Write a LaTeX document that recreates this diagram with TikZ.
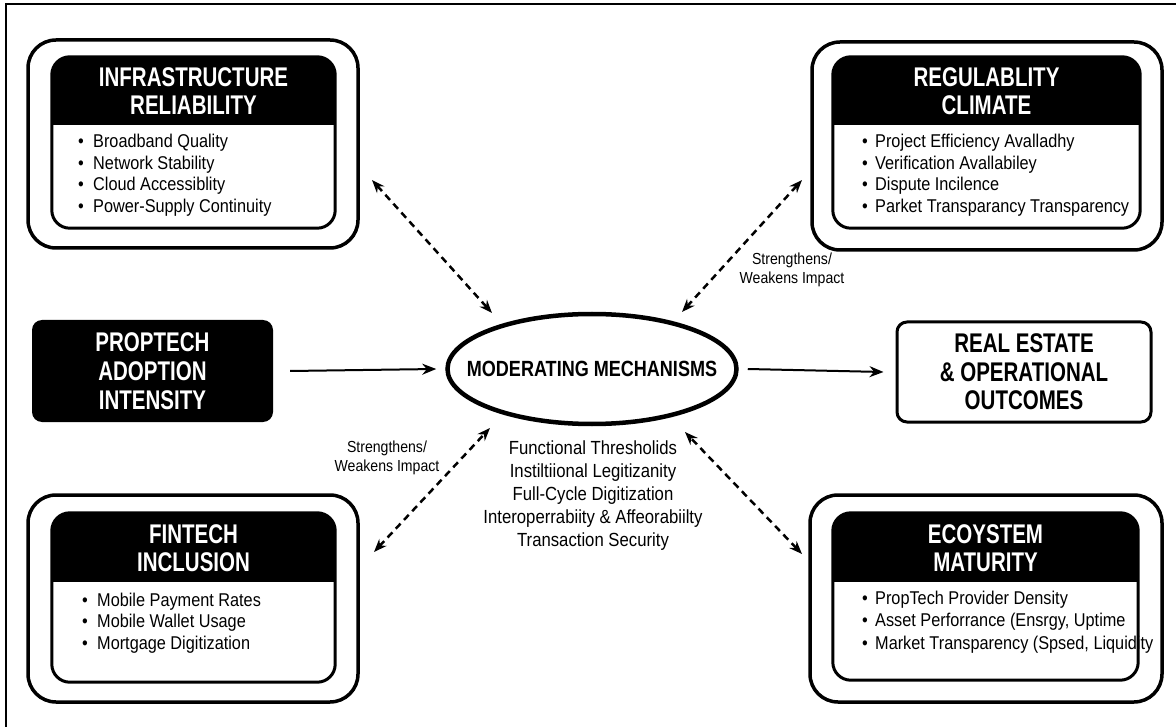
\documentclass[tikz,border=0pt]{standalone}
\usepackage{fontspec}
\setmainfont{Liberation Sans}
\newfontfamily\headfont[FakeStretch=0.76]{Liberation Sans}
\newfontfamily\ovalfont[FakeStretch=0.82]{Liberation Sans}
\newfontfamily\bodyfont[FakeStretch=0.88]{Liberation Sans}
\usetikzlibrary{shapes.geometric,arrows.meta}

% bullet with a fixed indent before the item text
\newcommand\bitem[1][15pt]{\makebox[#1][l]{•}}

\tikzset{
  outerbox/.style={draw, line width=3.5pt, rounded corners=28pt, inner sep=0pt},
  innerhold/.style={inner sep=0pt},
  innerline/.style={draw, line width=3pt, rounded corners=18pt},
  headtext/.style={text=white, font=\headfont\bfseries\fontsize{27}{28.5}\selectfont,
    align=center, inner sep=0pt},
  listtext/.style={font=\bodyfont\fontsize{18.5}{21.5}\selectfont, align=left,
    inner sep=0pt, anchor=west},
  darkbox/.style={fill=black, rounded corners=10pt, inner sep=0pt, text=white,
    font=\headfont\bfseries\fontsize{27}{29}\selectfont, align=center},
  lightbox/.style={draw, line width=3pt, rounded corners=10pt, inner sep=0pt,
    font=\headfont\bfseries\fontsize{27}{28.5}\selectfont, align=center},
  modoval/.style={draw, ellipse, line width=4.5pt, inner sep=0pt},
  ovaltext/.style={font=\ovalfont\bfseries\fontsize{22}{24}\selectfont, inner sep=0pt},
  notetext/.style={font=\bodyfont\fontsize{19}{23}\selectfont, align=center, inner sep=0pt},
  labeltext/.style={font=\bodyfont\fontsize{16}{19.5}\selectfont, align=center, inner sep=0pt},
  flow/.style={line width=2pt, -{Stealth[length=14pt,width=11pt]}},
  moderate/.style={line width=2.5pt, dash pattern=on 7pt off 5pt,
    {Stealth[length=13pt,width=10pt]}-{Stealth[length=13pt,width=10pt]}},
}

\begin{document}
\begin{tikzpicture}[x=1pt,y=-1pt]
\useasboundingbox (0,0) rectangle (1176,727);
\fill[white] (0,0) rectangle (1176,727);

% page frame (top and left rules)
\draw[line width=1.5pt] (1176,4) -- (6,4) -- (6,727);

% ---------- Infrastructure reliability ----------
\node[outerbox, minimum width=330pt, minimum height=208pt] (infra) at (193,144) {};
\node[innerhold, minimum width=283pt, minimum height=171pt] (infraIn) at (193.5,142.5) {};
\begin{scope}
  \clip[rounded corners=18pt] (infraIn.north west) rectangle (infraIn.south east);
  \fill (infraIn.north west) rectangle (infraIn.east |- 0,125);
\end{scope}
\draw[innerline] (infraIn.north west) rectangle (infraIn.south east);
\node[headtext] (infraHead) at (193.5,91) {INFRASTRUCTURE\\RELIABILITY};
\node[listtext] (infraList) at (78,175) {\bitem Broadband Quality\\\bitem Network Stability\\\bitem Cloud Accessiblity\\\bitem Power-Supply Continuity};

% ---------- Regulability climate ----------
\node[outerbox, minimum width=350pt, minimum height=208pt] (regul) at (987,146) {};
\node[innerhold, minimum width=307pt, minimum height=171pt] (regulIn) at (986.5,142.5) {};
\begin{scope}
  \clip[rounded corners=18pt] (regulIn.north west) rectangle (regulIn.south east);
  \fill (regulIn.north west) rectangle (regulIn.east |- 0,125);
\end{scope}
\draw[innerline] (regulIn.north west) rectangle (regulIn.south east);
\node[headtext] (regulHead) at (986.5,91) {REGULABLITY\\CLIMATE};
\node[listtext] (regulList) at (862,175) {\bitem[13pt]Project Efficiency Avalladhy\\\bitem[13pt]Verification Avallabiley\\\bitem[13pt]Dispute Incilence\\\bitem[13pt]Parket Transparancy Transparency};

% ---------- Fintech inclusion ----------
\node[outerbox, minimum width=330pt, minimum height=207pt] (fintech) at (193,598.5) {};
\node[innerhold, minimum width=283pt, minimum height=169pt] (fintechIn) at (193.5,597.5) {};
\begin{scope}
  \clip[rounded corners=18pt] (fintechIn.north west) rectangle (fintechIn.south east);
  \fill (fintechIn.north west) rectangle (fintechIn.east |- 0,582);
\end{scope}
\draw[innerline] (fintechIn.north west) rectangle (fintechIn.south east);
\node[headtext] (fintechHead) at (193.5,548) {FINTECH\\INCLUSION};
\node[listtext] (fintechList) at (82,623) {\bitem Mobile Payment Rates\\\bitem Mobile Wallet Usage\\\bitem Mortgage Digitization};

% ---------- Ecosystem maturity ----------
\node[outerbox, minimum width=352pt, minimum height=207pt] (eco) at (986,598.5) {};
\node[innerhold, minimum width=305pt, minimum height=167pt] (ecoIn) at (985.5,596.5) {};
\begin{scope}
  \clip[rounded corners=18pt] (ecoIn.north west) rectangle (ecoIn.south east);
  \fill (ecoIn.north west) rectangle (ecoIn.east |- 0,582);
\end{scope}
\draw[innerline] (ecoIn.north west) rectangle (ecoIn.south east);
\node[headtext] (ecoHead) at (985.5,548) {ECOYSTEM\\MATURITY};
\node[listtext, font=\bodyfont\fontsize{18.5}{22.5}\selectfont] (ecoList) at (862,622) {\bitem[13pt]PropTech Provider Density\\\bitem[13pt]Asset Perforrance (Ensrgy, Uptime\\\bitem[13pt]Market Transparency (Spsed, Liquidity};

% ---------- central chain ----------
\node[darkbox, minimum width=241pt, minimum height=102pt] (adopt) at (152.5,371) {PROPTECH\\ADOPTION\\INTENSITY};
\node[modoval, minimum width=289pt, minimum height=110pt] (mod) at (592,369) {};
\node[ovaltext] (modText) at (mod.center) {MODERATING MECHANISMS};
\node[lightbox, minimum width=254pt, minimum height=100pt] (outcome) at (1024,372) {REAL ESTATE\\\& OPERATIONAL\\OUTCOMES};

\node[notetext] (mechs) at (593,496) {Functional Thresholids\\Instiltiional Legitizanity\\Full-Cycle Digitization\\Interoperrabiity \& Affeorabiilty\\Transaction Security};

\node[labeltext] (labR) at (792,270) {Strengthens/\\Weakens Impact};
\node[labeltext] (labL) at (387,458) {Strengthens/\\Weakens Impact};

% solid flow arrows
\draw[flow] ([xshift=17pt]adopt.east) -- ([xshift=-9pt]mod.west);
\draw[flow] ([xshift=9pt]mod.east) -- ([xshift=-12pt]outcome.west);

% moderating links (double-headed, dashed)
\coordinate (infraEnd) at (372,180);
\coordinate (modNW) at (492,313);
\coordinate (regulEnd) at (802,180);
\coordinate (modNE) at (682,312);
\coordinate (fintechEnd) at (374,552);
\coordinate (modSW) at (490,428);
\coordinate (ecoEnd) at (802,554);
\coordinate (modSE) at (685,432);
\draw[moderate] (infraEnd) -- (modNW);
\draw[moderate] (regulEnd) -- (modNE);
\draw[moderate] (fintechEnd) -- (modSW);
\draw[moderate] (ecoEnd) -- (modSE);
\end{tikzpicture}
\end{document}
